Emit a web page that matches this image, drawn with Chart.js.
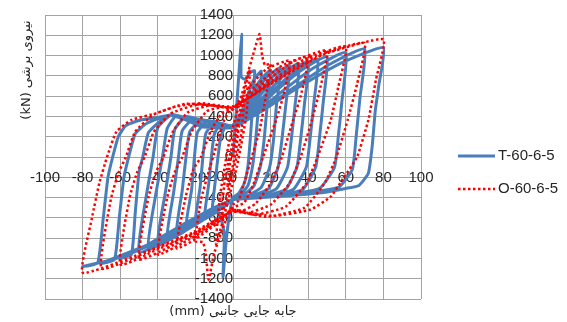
<!DOCTYPE html>
<html>
<head>
<meta charset="utf-8">
<script src="https://cdn.jsdelivr.net/npm/chart.js@4/dist/chart.umd.min.js"></script>
<style>
  html, body { margin: 0; padding: 0; background: #ffffff; }
  #wrap { position: relative; width: 567px; height: 322px; }
</style>
</head>
<body>
<div id="wrap"><canvas id="c"></canvas></div>
<script>
// Axis ticks
const xTicks = [-100, -80, -60, -40, -20, 0, 20, 40, 60, 80, 100];
const yTicks = [-1400, -1200, -1000, -800, -600, -400, -200, 0, 200, 400, 600, 800, 1000, 1200, 1400];

// Series names
const seriesNames = ['T-60-6-5', 'O-60-6-5'];

// T-60-6-5 : lateral displacement (mm), loading history in order
const tDisp = [
  0, 1.5, 3, 4.6, 4.3, 6.5, 9, 11.5, 10.5, 9.2, 8, 6, 3, 0, -2, -3.8, -5.3, -4.6, -6.5, -9, -11, -9.5, -8, -6.5, -4, -1,
  3, 7, 11, 15, 13.5, 12, 10.5, 8, 4, 0, -4, -9, -15, -13, -11.5, -10, -7, -3, 0,
  4, 9, 15, 20, 18, 16.5, 14.5, 11, 5, 0, -5, -12, -20, -17.5, -16, -14.5, -10, -5, 0,
  5, 11, 18, 25, 23, 21.5, 19.5, 15, 7, 0, -6, -15, -25, -22, -20.5, -19, -14, -6, 0,
  6, 13, 21, 30, 28, 26, 24, 19, 9, 0, -7, -18, -30, -27, -25, -23, -17, -8, 0,
  7, 15, 25, 35, 33, 31, 29, 23, 11, 0, -8, -20, -35, -31.5, -29, -27, -21, -10, 0,
  8, 18, 28, 40, 38, 36, 34, 28, 14, 0, -9, -23, -40, -36, -33, -31, -25, -12, 0,
  9, 20, 32, 45, 43, 41, 39, 32, 16, 0, -10, -26, -45, -41, -37.5, -35, -30, -15, 0,
  10, 22, 36, 50, 48, 46, 44, 37, 18, 0, -11, -29, -50, -46, -42.5, -40, -33, -18, 0,
  12, 27, 43, 60, 58, 56, 54, 46, 25, 0, -12, -34, -60, -54, -52, -50, -48, -45, -39, -32, -16, 0,
  14, 32, 51, 70, 67.5, 65.5, 63.5, 56, 30, 0, -13, -38, -70, -63, -60.5, -58, -55.5, -52, -46, -32, -17, 0,
  15, 36, 58, 80, 77.5, 75.7, 74, 72, 67, 60, 50, 34, 16, 0, -10, -25, -45, -62, -80,
  -72, -69, -66.5, -64, -61, -57, -50, -40, -32, -20, -8, 0
];
// T-60-6-5 : shear force (kN)
const tForce = [
  0, 380, 780, 1210, 790, 765, 830, 850, 520, 180, -80, -260, -360, -400, -580, -860, -1180, -760, -600, -530, -520, -250, 0, 200, 300, 300,
  380, 560, 760, 845, 480, 160, -80, -280, -370, -410, -480, -540, -590, -280, 0, 220, 320, 310, 310,
  400, 590, 770, 855, 470, 160, -100, -290, -380, -410, -490, -580, -650, -300, 0, 230, 340, 320, 310,
  410, 600, 790, 875, 490, 160, -100, -300, -390, -410, -500, -610, -710, -320, 0, 240, 350, 330, 305,
  420, 610, 790, 900, 500, 170, -100, -310, -390, -415, -510, -640, -770, -330, 0, 250, 365, 340, 300,
  420, 620, 810, 920, 510, 170, -100, -315, -395, -415, -520, -660, -820, -340, 0, 260, 380, 340, 300,
  420, 630, 820, 940, 520, 180, -100, -320, -395, -420, -525, -690, -870, -350, 0, 270, 400, 340, 300,
  420, 630, 830, 965, 530, 180, -100, -320, -395, -420, -530, -710, -910, -360, 0, 280, 410, 320, 295,
  420, 640, 850, 990, 540, 190, -100, -320, -395, -420, -535, -740, -940, -370, 0, 290, 410, 320, 295,
  430, 660, 880, 1030, 560, 200, -100, -310, -380, -420, -540, -780, -1000, -960, -550, -150, 0, 240, 350, 420, 310, 290,
  440, 680, 910, 1065, 580, 200, -120, -300, -370, -420, -550, -810, -1048, -1010, -600, -200, 0, 230, 330, 420, 300, 290,
  450, 700, 930, 1080, 700, 460, 100, -160, -280, -310, -345, -375, -400, -420, -500, -650, -860, -1000, -1080,
  -1045, -600, -200, 0, 200, 310, 360, 390, 415, 330, 290, 300
];

// O-60-6-5 : lateral displacement (mm)
const oDisp = [
  0, 3, 1.5, -3, -1.5, 6, 4, -6, -4, 9, 7, 2, -9, -7, -2, 14, 15.5, 17, 20, 17.5, 14, 10, 6, 3, 0, -5, -10, -13, -14.5, -16, -20,
  -17, -13, -9, -5, -2, 0,
  8, 18, 30, 27, 23, 16, 11, 6, 0, -9, -20, -30, -25, -21, -17, -12, -6, 0,
  12, 26, 40, 36, 32, 26, 20, 12, 5, 0, -12, -27, -40, -35, -31, -27, -22, -14, -6, 0,
  15, 32, 50, 46, 42, 36, 30, 20, 8, 0, -15, -33, -50, -45, -41, -37, -32, -24, -12, 0,
  18, 38, 60, 56, 52, 45, 39, 28, 12, 0, -18, -40, -60, -55, -51, -47, -42, -33, -18, 0,
  20, 44, 70, 66, 61, 55, 49, 38, 18, 0, -20, -46, -70, -65, -61, -57, -52, -42, -25, 0,
  22, 48, 80, 76, 72, 66, 59, 52, 41, 22, 0, -22, -50, -80, -75, -71, -67, -62, -54, -41, -30, -17, -5
];
// O-60-6-5 : shear force (kN)
const oForce = [
  0, 300, 50, -300, -50, 580, 180, -580, -180, 860, 400, -100, -860, -400, 150, 1210, 1000, 905, 920, 600, 250, 0, -250, -430, -470, -680, -950, -1210, -950, -840, -830,
  -420, -150, 100, 350, 450, 470,
  680, 870, 950, 620, 370, 0, -260, -450, -500, -660, -810, -900, -380, -120, 0, 250, 430, 470,
  700, 900, 990, 600, 365, 0, -260, -460, -530, -520, -690, -850, -960, -400, -150, 0, 250, 450, 490, 470,
  710, 940, 1050, 650, 365, 0, -260, -470, -550, -520, -710, -880, -1010, -400, -150, 0, 250, 440, 510, 480,
  720, 960, 1090, 690, 365, 0, -260, -490, -570, -530, -730, -910, -1060, -400, -150, 0, 250, 430, 520, 490,
  730, 990, 1125, 720, 365, 0, -250, -500, -590, -540, -740, -940, -1100, -420, -160, 0, 250, 420, 525, 500,
  740, 1010, 1160, 760, 365, 0, -200, -390, -520, -580, -540, -750, -960, -1140, -600, -250, 0, 250, 365, 430, 500, 530, 500
];

const GRID = '#a3a3a3';
const TEXT = '#262626';
const BLUE = '#4a7ebb';
const RED = '#ff0000';

function pairs(xs, ys) {
  return xs.map((x, i) => ({ x: x, y: ys[i] }));
}

// Persian axis titles and the line legend on the right
const decorations = {
  id: 'decorations',
  afterDraw(chart) {
    const ctx = chart.ctx;
    ctx.save();
    ctx.fillStyle = TEXT;
    ctx.font = '13px "DejaVu Sans"';
    ctx.direction = 'rtl';
    ctx.textAlign = 'center';
    ctx.textBaseline = 'middle';
    // vertical title
    ctx.save();
    ctx.translate(27, 70);
    ctx.rotate(-Math.PI / 2);
    ctx.fillText('نیروی برشی (kN)', 0, 0);
    ctx.restore();
    // horizontal title
    const xs = chart.scales.x;
    ctx.fillText('جابه جایی جانبی (mm)', xs.getPixelForValue(0), 312);
    ctx.restore();

    // legend
    ctx.save();
    const items = chart.data.datasets;
    const rows = [156, 189];
    items.forEach((ds, i) => {
      const y = rows[i];
      ctx.beginPath();
      ctx.strokeStyle = ds.borderColor;
      ctx.lineWidth = ds.borderWidth;
      ctx.setLineDash(ds.borderDash || []);
      ctx.moveTo(458, y);
      ctx.lineTo(495, y);
      ctx.stroke();
      ctx.setLineDash([]);
      ctx.fillStyle = TEXT;
      ctx.font = '15px "Liberation Sans"';
      ctx.textAlign = 'left';
      ctx.textBaseline = 'middle';
      ctx.fillText(ds.label, 498, y);
    });
    ctx.restore();
  }
};

new Chart(document.getElementById('c'), {
  type: 'scatter',
  data: {
    datasets: [
      {
        label: seriesNames[0],
        data: pairs(tDisp, tForce),
        showLine: true,
        borderColor: BLUE,
        backgroundColor: BLUE,
        borderWidth: 3,
        pointRadius: 0,
        tension: 0.15,
        order: 2
      },
      {
        label: seriesNames[1],
        data: pairs(oDisp, oForce),
        showLine: true,
        borderColor: RED,
        backgroundColor: RED,
        borderWidth: 2.5,
        borderDash: [2.5, 2.5],
        pointRadius: 0,
        tension: 0.15,
        order: 1
      }
    ]
  },
  options: {
    responsive: true,
    maintainAspectRatio: false,
    animation: false,
    layout: { padding: { left: 45, top: 15, right: 146, bottom: 23 } },
    plugins: {
      legend: { display: false },
      tooltip: { enabled: false }
    },
    scales: {
      x: {
        type: 'linear',
        position: { y: 0 },
        min: -100,
        max: 100,
        afterBuildTicks: (s) => { s.ticks = xTicks.map(v => ({ value: v })); },
        grid: { color: GRID, lineWidth: 1, drawTicks: true, tickLength: 8, tickColor: 'rgba(0,0,0,0)' },
        border: { color: GRID, width: 1 },
        ticks: { color: TEXT, font: { family: 'Liberation Sans', size: 15 }, padding: 4, maxRotation: 0, autoSkip: false,
                 callback: (v) => String(v) }
      },
      y: {
        type: 'linear',
        position: { x: 0 },
        min: -1400,
        max: 1400,
        afterBuildTicks: (s) => { s.ticks = yTicks.map(v => ({ value: v })); },
        grid: { color: GRID, lineWidth: 1, drawTicks: true, tickLength: 15, tickColor: 'rgba(0,0,0,0)' },
        border: { color: GRID, width: 1 },
        ticks: { color: TEXT, font: { family: 'Liberation Sans', size: 15 }, padding: 0, autoSkip: false,
                 callback: (v) => String(v) }
      }
    }
  },
  plugins: [decorations]
});
</script>
</body>
</html>
